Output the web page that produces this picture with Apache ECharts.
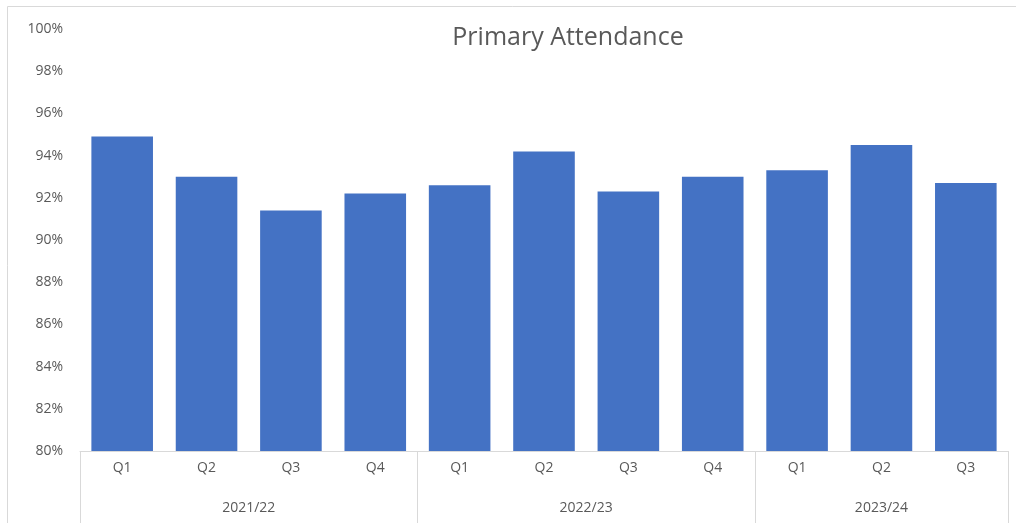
<!DOCTYPE html>
<html>
<head>
    <meta charset="utf-8">
    <title>Primary Attendance</title>
    <script src="https://cdn.jsdelivr.net/npm/echarts@6.0.0/dist/echarts.min.js"></script>
    <style>
        html, body { margin: 0; padding: 0; background: #fff; }
        #main { width: 1016px; height: 523px; }
    </style>
</head>
<body>
    <div id="main"></div>
    <script type="text/javascript">
        // data
        var quarters = ['Q1', 'Q2', 'Q3', 'Q4', 'Q1', 'Q2', 'Q3', 'Q4', 'Q1', 'Q2', 'Q3'];
        var years = ['2021/22', '2022/23', '2023/24'];
        var yearSizes = [4, 4, 3];
        var attendance = [94.9, 93.0, 91.4, 92.2, 92.6, 94.2, 92.3, 93.0, 93.3, 94.5, 92.7];
        var yTicks = { min: 80, max: 100, step: 2 };

        // second category axis in half-steps: labels at group centres, ticks at group edges
        var halfSlots = [];
        var labelIdx = {};
        var tickIdx = { 0: true };
        var pos = 0;
        for (var i = 0; i < years.length; i++) {
            labelIdx[pos + yearSizes[i]] = years[i];
            pos += yearSizes[i] * 2;
            tickIdx[pos] = true;
        }
        for (var k = 0; k <= quarters.length * 2; k++) {
            halfSlots.push(labelIdx[k] || '');
        }

        var myChart = echarts.init(document.getElementById('main'));
        var grey = '#595959';
        var lineGrey = '#d9d9d9';

        var option = {
            animation: false,
            title: {
                text: 'Primary Attendance',
                left: 563,
                top: 20,
                textAlign: 'center',
                textStyle: { color: grey, fontSize: 25, fontWeight: 'normal', fontFamily: 'Open Sans' }
            },
            graphic: [{
                type: 'rect',
                shape: { x: 7.5, y: 6.5, width: 1100, height: 600 },
                style: { fill: 'none', stroke: lineGrey, lineWidth: 1 },
                silent: true
            }],
            grid: { left: 80, right: 8, top: 29, bottom: 72 },
            xAxis: [{
                type: 'category',
                data: quarters,
                position: 'bottom',
                axisLine: { show: true, lineStyle: { color: lineGrey } },
                axisTick: { show: false },
                axisLabel: { color: grey, fontSize: 14, margin: 10, fontFamily: 'Open Sans' }
            }, {
                type: 'category',
                data: halfSlots,
                position: 'bottom',
                boundaryGap: false,
                axisLine: { show: false },
                axisTick: {
                    show: true,
                    length: 80,
                    interval: function (idx) { return !!tickIdx[idx]; },
                    lineStyle: { color: lineGrey }
                },
                axisLabel: {
                    color: grey, fontSize: 14, margin: 50, fontFamily: 'Open Sans',
                    interval: function (idx) { return !!labelIdx[idx]; }
                }
            }],
            yAxis: {
                type: 'value',
                min: yTicks.min,
                max: yTicks.max,
                interval: yTicks.step,
                axisLine: { show: false },
                axisTick: { show: false },
                splitLine: { show: false },
                axisLabel: {
                    color: grey, fontSize: 14, margin: 17, fontFamily: 'Open Sans',
                    formatter: '{value}%'
                }
            },
            series: [{
                type: 'bar',
                xAxisIndex: 0,
                data: attendance,
                barWidth: '73%',
                itemStyle: { color: '#4472C4' }
            }]
        };

        myChart.setOption(option);
    </script>
</body>
</html>
